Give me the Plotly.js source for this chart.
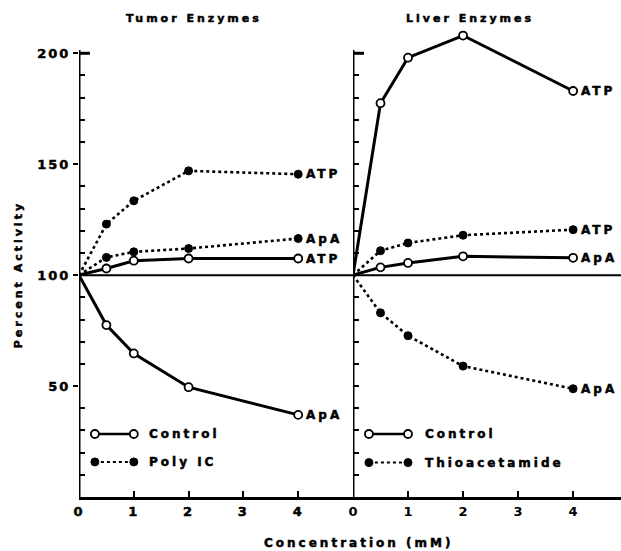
<!DOCTYPE html>
<html><head><meta charset="utf-8">
<script src="https://cdn.plot.ly/plotly-3.0.1.min.js"></script>
<style>
html,body{margin:0;padding:0;background:#fff;}
#chart{width:621px;height:551px;}
.annotation-text{letter-spacing:3px;stroke:#000;stroke-width:0.5px;}
.xtick text,.ytick text{letter-spacing:2px;stroke:#000;stroke-width:0.5px;}
</style></head><body><div id="chart"></div>
<script>
// ---- data ----
const conc = [0, 0.5, 1, 2, 4];
const tumorControlATP = [100, 103, 106.5, 107.5, 107.5];
const tumorControlApA = [100, 77.5, 64.7, 49.5, 37];
const tumorPolyICATP = [100, 123, 133.5, 147, 145.5];
const tumorPolyICApA = [100, 108, 110.5, 112, 116.5];
const liverControlATP = [100, 177.5, 198, 208, 183];
const liverControlApA = [100, 103.5, 105.5, 108.5, 107.8];
const liverThioATP = [100, 111, 114.5, 118, 120.5];
const liverThioApA = [100, 83, 72.7, 59, 48.8];

const xTickVals = [0, 1, 2, 3, 4];
const xTickText = ['0', '1', '2', '3', '4'];
const yTickVals = [50, 100, 150, 200];
const yTickText = ['50', '100', '150', '200'];
const yMinorVals = [10, 20, 30, 40, 60, 70, 80, 90, 110, 120, 130, 140, 160, 170, 180, 190];

const panelTitles = ['Tumor Enzymes', 'Liver Enzymes'];
const legendTumor = ['Control', 'Poly IC'];
const legendLiver = ['Control', 'Thioacetamide'];

// ---- styling ----
const FONT = 'DejaVu Sans, sans-serif';
const BLACK = '#000';
const sizes = conc.map(c => c === 0 ? 0 : 8);

function solid(y, xa, ya) {
  return {x: conc, y: y, xaxis: xa, yaxis: ya, mode: 'lines+markers', hoverinfo: 'skip',
    line: {color: BLACK, width: 3},
    marker: {symbol: 'circle', size: sizes, color: '#fff', opacity: 1, line: {color: BLACK, width: 1.8}},
    showlegend: false, cliponaxis: false};
}
function dotted(y, xa, ya) {
  return {x: conc, y: y, xaxis: xa, yaxis: ya, mode: 'lines+markers', hoverinfo: 'skip',
    line: {color: BLACK, width: 2.6, dash: 'dot'},
    marker: {symbol: 'circle', size: sizes, color: BLACK, opacity: 1, line: {color: BLACK, width: 1}},
    showlegend: false, cliponaxis: false};
}
function legendKey(xa, ya, yv, isSolid) {
  return {x: [0.29, 1.0], y: [yv, yv], xaxis: xa, yaxis: ya, mode: 'lines+markers', hoverinfo: 'skip',
    line: {color: BLACK, width: isSolid ? 2.5 : 2, dash: isSolid ? 'solid' : 'dot'},
    marker: {symbol: 'circle', size: 8, color: isSolid ? '#fff' : BLACK, opacity: 1, line: {color: BLACK, width: isSolid ? 1.8 : 1}},
    showlegend: false, cliponaxis: false};
}

const traces = [
  solid(tumorControlATP, 'x', 'y'),
  solid(tumorControlApA, 'x', 'y'),
  dotted(tumorPolyICATP, 'x', 'y'),
  dotted(tumorPolyICApA, 'x', 'y'),
  solid(liverControlATP, 'x2', 'y2'),
  solid(liverControlApA, 'x2', 'y2'),
  dotted(liverThioATP, 'x2', 'y2'),
  dotted(liverThioApA, 'x2', 'y2'),
  legendKey('x', 'y', 28.4, true),
  legendKey('x', 'y', 15.8, false),
  legendKey('x2', 'y2', 28.4, true),
  legendKey('x2', 'y2', 15.5, false)
];

const tickFont = {family: FONT, size: 13, color: BLACK, weight: 700};
const labFont = {family: FONT, size: 12, color: BLACK, weight: 700};

function xAxis(domain, range, anchor) {
  return {domain: domain, range: range, anchor: anchor, tickmode: 'array', tickvals: xTickVals, ticktext: xTickText,
    ticks: 'inside', ticklen: 6, tickwidth: 2, tickcolor: BLACK, showline: true, linewidth: 3, linecolor: BLACK,
    zeroline: false, showgrid: false, tickfont: tickFont, fixedrange: true};
}
function yAxis(anchor, labels) {
  return {range: [0, 215], anchor: anchor, domain: [0, 1], tickmode: 'array', tickvals: yTickVals, ticktext: yTickText,
    showticklabels: labels, ticks: labels ? 'outside' : 'inside', ticklen: labels ? 5 : 6, tickwidth: 2, tickcolor: BLACK,
    showline: false, zeroline: false, showgrid: false, tickfont: tickFont, fixedrange: true,
    minor: {tickmode: 'array', tickvals: yMinorVals, ticks: 'inside', ticklen: 6, tickwidth: 2, tickcolor: BLACK, showgrid: false}};
}

const split = 0.5055;
const shapes = [
  {type: 'line', xref: 'x', yref: 'y', x0: 0, x1: 0, y0: 0, y1: 201.5, line: {color: BLACK, width: 3}},
  {type: 'line', xref: 'x2', yref: 'y2', x0: 0, x1: 0, y0: 0, y1: 201.5, line: {color: BLACK, width: 3}},
  {type: 'line', xref: 'x', yref: 'y', x0: 0, x1: 0.2, y0: 200, y1: 200, line: {color: BLACK, width: 3}},
  {type: 'line', xref: 'x2', yref: 'y2', x0: 0, x1: 0.2, y0: 200, y1: 200, line: {color: BLACK, width: 3}},
  {type: 'line', xref: 'paper', yref: 'y', x0: 0, x1: 1, y0: 100, y1: 100, line: {color: BLACK, width: 2}}
];

function endLabel(text, xa, ya, yv) {
  return {text: text, xref: xa, yref: ya, x: 4, y: yv, xanchor: 'left', yanchor: 'middle', xshift: 6,
    showarrow: false, font: labFont};
}
function legText(text, xa, ya, yv, xv) {
  return {text: text, xref: xa, yref: ya, x: xv, y: yv, xanchor: 'left', yanchor: 'middle',
    showarrow: false, font: labFont};
}

const annotations = [
  {text: panelTitles[0], xref: 'paper', yref: 'paper', x: 0.212, y: 1.004, xanchor: 'center', yanchor: 'middle', showarrow: false,
    font: {family: FONT, size: 11, color: BLACK, weight: 700}},
  {text: panelTitles[1], xref: 'paper', yref: 'paper', x: 0.721, y: 1.004, xanchor: 'center', yanchor: 'middle', showarrow: false,
    font: {family: FONT, size: 11, color: BLACK, weight: 700}},
  {text: 'Concentration (mM)', xref: 'paper', yref: 'paper', x: 0.515, y: -0.096, xanchor: 'center', yanchor: 'middle', showarrow: false,
    font: {family: FONT, size: 12, color: BLACK, weight: 700}},
  {text: 'Percent Activity', xref: 'paper', yref: 'paper', x: -0.1125, y: 0.465, xanchor: 'center', yanchor: 'middle', textangle: -90, showarrow: false,
    font: {family: FONT, size: 11, color: BLACK, weight: 700}},
  endLabel('ATP', 'x', 'y', tumorPolyICATP[4]),
  endLabel('ApA', 'x', 'y', tumorPolyICApA[4]),
  endLabel('ATP', 'x', 'y', tumorControlATP[4]),
  endLabel('ApA', 'x', 'y', tumorControlApA[4]),
  endLabel('ATP', 'x2', 'y2', liverControlATP[4]),
  endLabel('ATP', 'x2', 'y2', liverThioATP[4]),
  endLabel('ApA', 'x2', 'y2', liverControlApA[4]),
  endLabel('ApA', 'x2', 'y2', liverThioApA[4]),
  legText(legendTumor[0], 'x', 'y', 28.4, 1.24),
  legText(legendTumor[1], 'x', 'y', 15.8, 1.24),
  legText(legendLiver[0], 'x2', 'y2', 28.4, 1.27),
  legText(legendLiver[1], 'x2', 'y2', 15.5, 1.27)
];

const layout = {
  width: 621, height: 551, margin: {l: 79, r: 0, t: 20, b: 54},
  paper_bgcolor: '#fff', plot_bgcolor: 'rgba(0,0,0,0)', showlegend: false,
  xaxis: xAxis([0, split], [0, 5], 'y'),
  xaxis2: xAxis([split, 1], [0, 4.87], 'y2'),
  yaxis: yAxis('x', true),
  yaxis2: Object.assign(yAxis('x2', false), {matches: 'y'}),
  shapes: shapes, annotations: annotations
};

Plotly.newPlot('chart', traces, layout, {displayModeBar: false, staticPlot: true});
</script></body></html>
